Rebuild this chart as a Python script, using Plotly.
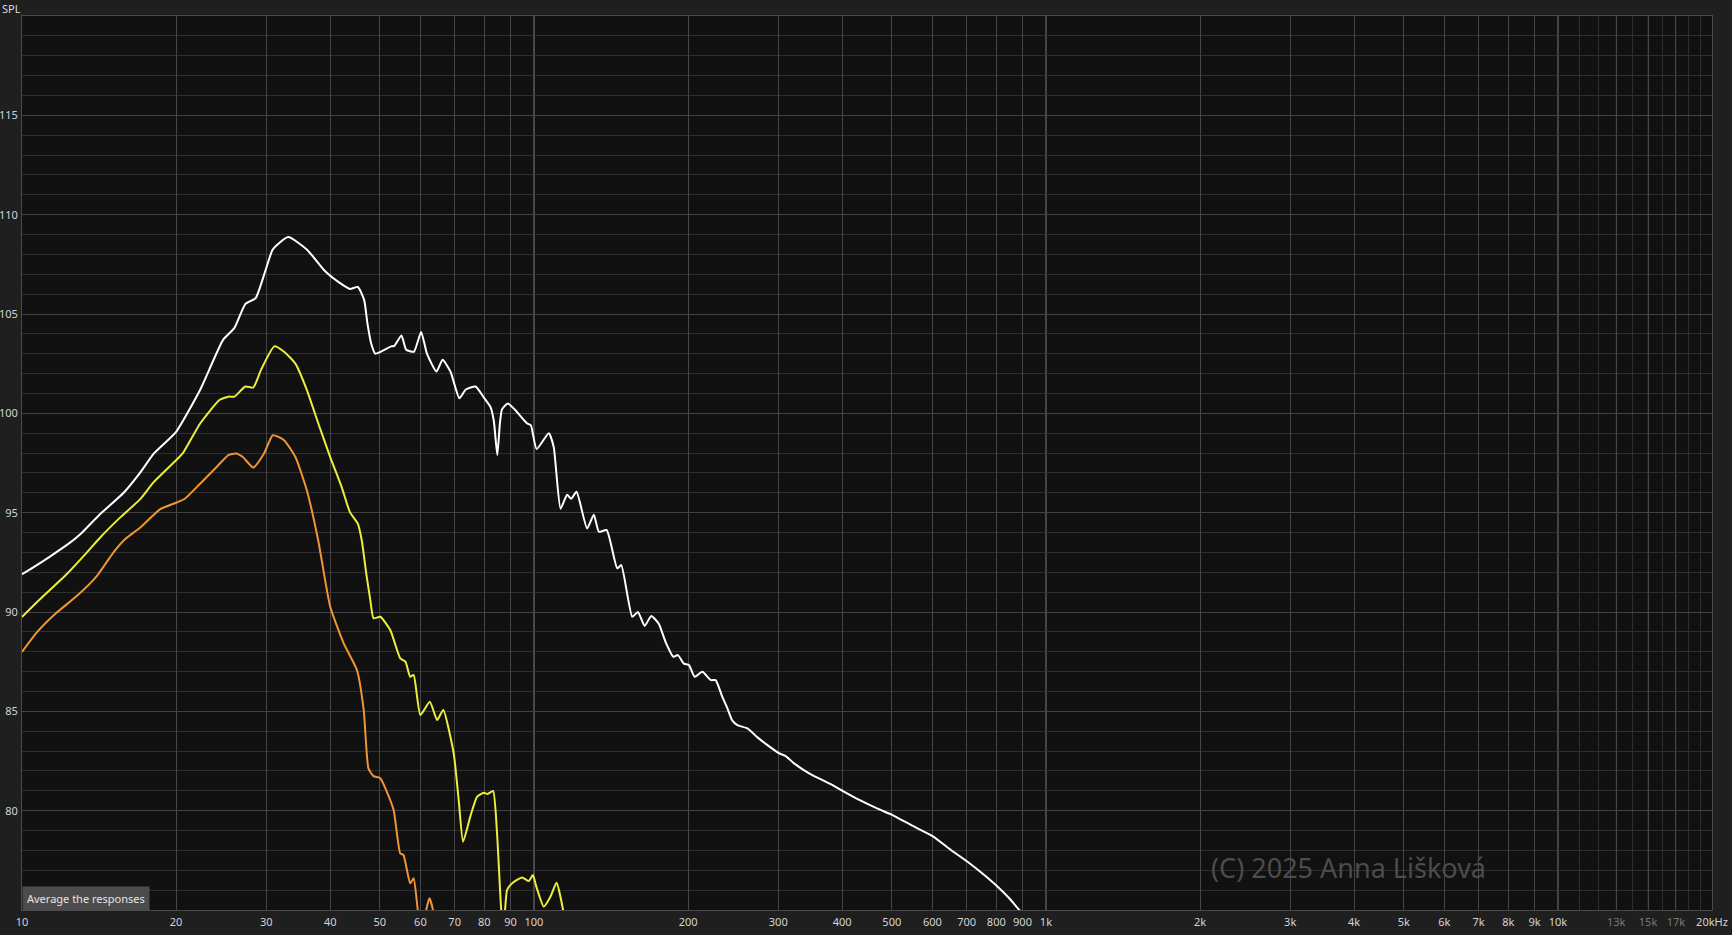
import plotly.graph_objects as go

# ---------------- data ----------------
white_f = [10, 10.5, 11.34, 12.41, 12.98, 14.2, 15.8, 17.0, 18.1, 20.0, 22.3, 24.7, 26.0,
           27.3, 28.6, 29.9, 30.9, 33.1, 36.0, 39.1, 42.1, 43.7, 45.3, 46.6, 47.3, 48.1, 49.0,
           52.6, 53.4, 55.1, 56.3, 58.3, 60.2, 61.8, 64.5, 66.3, 68.7, 71.5, 73.6, 76.9, 80.0,
           82.3, 83.5, 84.8, 85.8, 86.6, 88.9, 91.9, 96.9, 98.6, 101.2, 106.9, 109.3, 112.7,
           116.1, 118.2, 121.1, 127, 130.9, 133.9, 138.7, 145.4, 148.1, 155.6, 159.6, 164.5,
           169.5, 175.4, 180.7, 187.2, 191.1, 196.3, 200.8, 206, 213.3, 221.4, 226.4, 233.3,
           238.7, 244.1, 249.6, 261.2, 273.3, 285.8, 301.1, 310.3, 322.2, 344.6, 366.1, 380,
           400.6, 435, 469, 501.7, 544.8, 600.5, 652.3, 703, 757.8, 804.9, 848, 887, 950, 1000]
white_db = [91.9, 92.23, 92.79, 93.49, 93.9, 94.92, 96.0, 97.0, 97.98, 99.07, 101.2, 103.7, 104.3,
            105.5, 105.8, 107.2, 108.25, 108.87, 108.25, 107.15, 106.5, 106.26, 106.36, 105.7, 104.5, 103.5, 103.0,
            103.37, 103.4, 103.92, 103.2, 103.1, 104.1, 103.0, 102.1, 102.7, 102.1, 100.76, 101.2, 101.35, 100.76,
            100.3, 99.6, 97.9, 99.5, 100.2, 100.5, 100.17, 99.5, 99.4, 98.2, 99.0, 98.3, 95.2,
            95.9, 95.7, 96.05, 94.2, 94.9, 94.04, 94.12, 92.2, 92.36, 89.76, 90.0, 89.3,
            89.8, 89.4, 88.5, 87.75, 87.83, 87.4, 87.33, 86.74, 86.99, 86.57, 86.57, 85.73,
            85.15, 84.53, 84.31, 84.14, 83.69, 83.3, 82.89, 82.75, 82.38, 81.88, 81.54, 81.34,
            81.0, 80.5, 80.1, 79.78, 79.28, 78.72, 78.02, 77.43, 76.76, 76.17, 75.59, 75.0, 74.2, 73.5]

yellow_f = [10, 10.84, 12.22, 13.38, 14.2, 15.54, 17.0, 18.1, 20.0, 20.6, 22.3, 24.3, 25.3, 26.0,
            27.3, 28.3, 29.3, 31.1, 32.5, 34.2, 36.0, 37.9, 40.0, 42.1, 43.7, 45.3, 46.1, 47.0,
            47.9, 48.6, 50.1, 52.4, 54.8, 56.1, 57.3, 58.2, 60.0, 62.6, 64.7, 66.5, 69.7, 71.3,
            72.7, 75.1, 77.4, 79.8, 81.2, 83.2, 84.7, 86.3, 87.2, 88.6, 90.6, 94.8, 97.7, 99.5,
            101, 104.5, 107.7, 110.7, 114.0, 116]
yellow_db = [89.75, 90.64, 91.9, 92.99, 93.74, 94.75, 95.67, 96.55, 97.64, 97.98, 99.5, 100.67, 100.84, 100.84,
             101.35, 101.3, 102.19, 103.37, 103.1, 102.5, 101.18, 99.5, 97.8, 96.3, 95.03, 94.44, 93.6, 92.0,
             90.6, 89.68, 89.76, 89.09, 87.67, 87.5, 86.74, 86.83, 84.81, 85.48, 84.56, 85.07, 82.89, 80.5,
             78.44, 79.7, 80.7, 80.9, 80.84, 80.99, 78.86, 75.0, 74.0, 76.0, 76.34, 76.64, 76.46, 76.76,
             76.2, 75.17, 75.67, 76.37, 75.0, 73.5]

orange_f = [10, 10.68, 11.69, 12.79, 14.0, 15.08, 15.89, 17.0, 18.6, 20.0, 20.8, 22.3, 24.0, 25.3,
            26.2, 27.0, 28.3, 29.7, 30.9, 32.5, 34.2, 36.0, 37.9, 40.0, 42.5, 45.1, 46.5, 47.5,
            48.6, 50.1, 51.6, 53.2, 54.8, 55.6, 57.3, 58.2, 59.3, 60.5, 61.6, 62.5, 63.5, 64.5]
orange_db = [87.99, 88.96, 89.97, 90.8, 91.81, 92.99, 93.66, 94.24, 95.17, 95.5, 95.7, 96.47, 97.3, 97.9,
             97.98, 97.8, 97.27, 97.98, 98.9, 98.65, 97.8, 96.13, 93.6, 90.26, 88.42, 87.08, 85.07, 82.13,
             81.74, 81.63, 80.95, 80.03, 77.85, 77.77, 76.34, 76.6, 75.0, 73.5, 75.0, 75.59, 75.0, 73.5]

x_tickvals = [10, 20, 30, 40, 50, 60, 70, 80, 90, 100, 200, 300, 400, 500, 600, 700, 800, 900, 1000,
              2000, 3000, 4000, 5000, 6000, 7000, 8000, 9000, 10000, 13000, 15000, 17000, 20000]
x_ticktext = ["10", "20", "30", "40", "50", "60", "70", "80", "90", "100", "200", "300", "400", "500",
              "600", "700", "800", "900", "1k", "2k", "3k", "4k", "5k", "6k", "7k", "8k", "9k", "10k",
              "13k", "15k", "17k", "20kHz"]
x_dim_labels = ["13k", "15k", "17k"]
x_minor_vals = [11000, 12000, 14000, 16000, 18000, 19000]
x_bright_vals = [100, 1000, 10000]
x_dim_line_vals = [13000, 15000, 17000]
y_tickvals = [80, 85, 90, 95, 100, 105, 110, 115]

# ---------------- figure ----------------
FONT = "Noto Sans"
fig = go.Figure()

for f, db, col in [(orange_f, orange_db, "#ef9634"),
                   (yellow_f, yellow_db, "#eded3d"),
                   (white_f, white_db, "#ffffff")]:
    fig.add_trace(go.Scatter(x=f, y=db, mode="lines",
                             line=dict(color=col, width=2, shape="spline", smoothing=0.5),
                             hoverinfo="skip", showlegend=False))

ticktext = [f'<span style="color:#7a7a7a">{t}</span>' if t in x_dim_labels else t for t in x_ticktext]

shapes = []
for v in x_bright_vals:
    shapes.append(dict(type="line", xref="x", yref="paper", x0=v, x1=v, y0=0, y1=1,
                       line=dict(color="#8e8e8e", width=1), layer="between"))
for v in x_dim_line_vals:
    shapes.append(dict(type="line", xref="x", yref="paper", x0=v, x1=v, y0=0, y1=1,
                       line=dict(color="#2e2e2e", width=1), layer="between"))

fig.update_layout(
    width=1732, height=935,
    margin=dict(l=22, r=20, t=16, b=25),
    paper_bgcolor="#1f1f1f",
    plot_bgcolor="#111111",
    font=dict(family=FONT, size=11, color="#cfcfcf"),
    showlegend=False,
    shapes=shapes,
    xaxis=dict(type="log", range=[1, 4.30103], tickmode="array", tickvals=x_tickvals,
               ticktext=ticktext, showgrid=True, gridcolor="#474747", gridwidth=1,
               zeroline=False, showline=True, linecolor="#4a4a4a", mirror=True,
               ticks="", ticklabelstandoff=2, automargin=False,
               tickfont=dict(family=FONT, size=11, color="#d4d4d4"),
               minor=dict(tickmode="array", tickvals=x_minor_vals, showgrid=True,
                          gridcolor="#2e2e2e", gridwidth=1)),
    yaxis=dict(range=[75, 120], tickmode="array", tickvals=y_tickvals,
               showgrid=True, gridcolor="#424242", gridwidth=1, zeroline=False,
               showline=True, linecolor="#4a4a4a", mirror=True, ticks="",
               ticklabelstandoff=1, automargin=False,
               tickfont=dict(family=FONT, size=11, color="#d4d4d4"),
               minor=dict(tickmode="linear", tick0=75, dtick=1, showgrid=True,
                          gridcolor="#2e2e2e", gridwidth=1)),
    annotations=[
        dict(text="SPL", xref="paper", yref="paper", x=0, y=1, xanchor="left", yanchor="middle",
             xshift=-22, yshift=8, showarrow=False, font=dict(family=FONT, size=11, color="#dcdcdc")),
        dict(text="(C) 2025 Anna Lišková", xref="paper", yref="paper", x=0.785, y=0.047,
             xanchor="center", yanchor="middle", showarrow=False,
             font=dict(family=FONT, size=27, color="#4c4c4c")),
        dict(text="Average the responses", xref="paper", yref="paper", x=0.0376, y=0.0134,
             xanchor="center", yanchor="middle", showarrow=False, bgcolor="#4c4c4c",
             borderpad=4, font=dict(family=FONT, size=11, color="#e4e4e4")),
    ],
)

fig.write_html(
    "out.html",
    config={"displayModeBar": False},
    post_script="document.body.style.margin='0';document.body.style.padding='0';"
                "document.body.style.background='#1f1f1f';"
                "document.documentElement.style.overflow='hidden';",
)
